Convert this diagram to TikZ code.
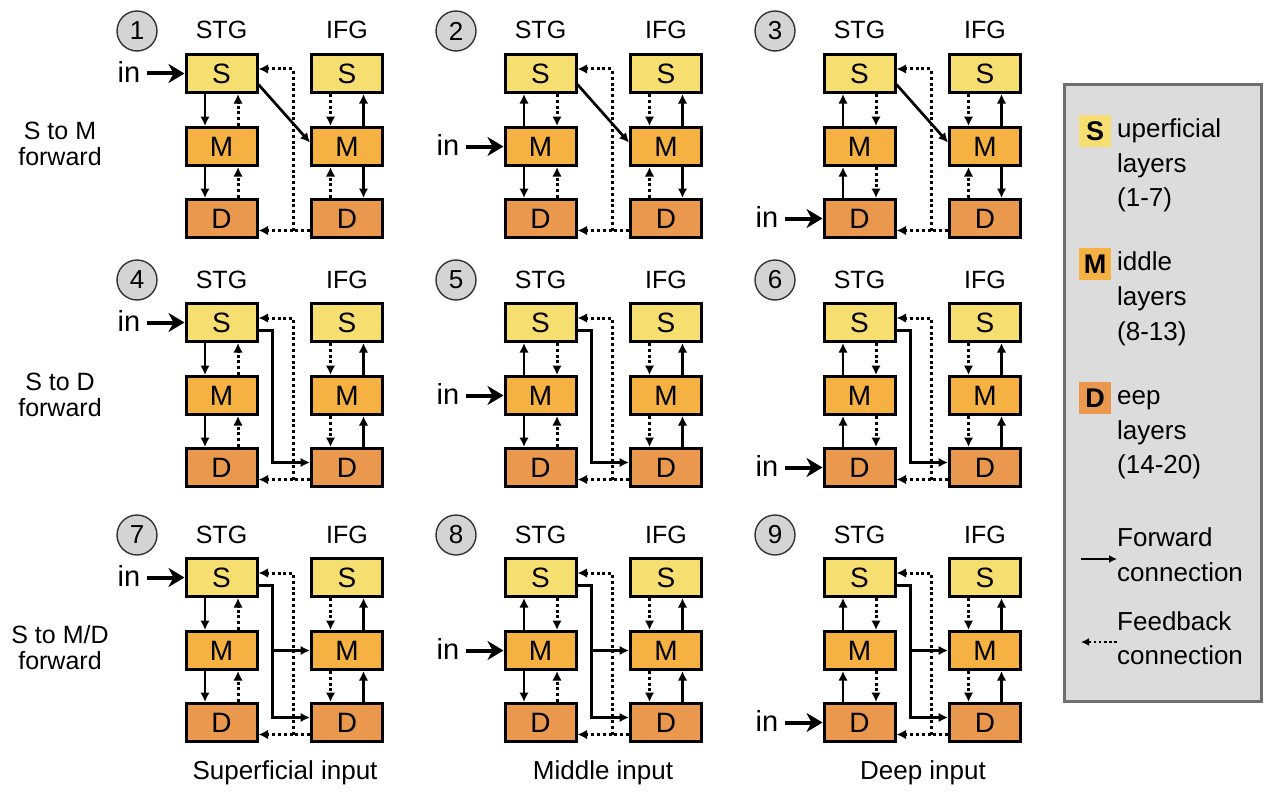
\documentclass[tikz,border=0pt]{standalone}
\usepackage{fontspec}
\setmainfont{Liberation Sans}
\usetikzlibrary{arrows.meta,calc}

\definecolor{supcol}{RGB}{247,222,112}
\definecolor{midcol}{RGB}{245,177,66}
\definecolor{deepcol}{RGB}{234,152,78}
\definecolor{badgecol}{RGB}{212,212,212}
\definecolor{legfill}{RGB}{220,220,220}
\definecolor{legline}{RGB}{110,110,110}

\tikzset{
  layer/.style={draw=black, line width=3pt, minimum width=71pt, minimum height=38pt,
    inner sep=0pt, font=\fontsize{28}{28}\selectfont},
  badge/.style={circle, draw=black!80, fill=badgecol, line width=1.4pt, minimum size=40pt,
    inner sep=0pt, font=\fontsize{26}{26}\selectfont},
  lbl/.style={inner sep=0pt, text height=17pt, text depth=5pt, font=\fontsize{25}{26}\selectfont},
  inlbl/.style={inner sep=0pt, text height=19pt, text depth=5pt, font=\fontsize{29}{29}\selectfont},
  big/.style={inner sep=0pt, text height=18pt, text depth=5pt, font=\fontsize{26}{27}\selectfont},
  rowlbl/.style={inner sep=0pt, align=center, font=\fontsize{25}{26}\selectfont},
  fwd/.style={line width=2.7pt, -{Latex[length=9.5pt,width=9.5pt]}},
  fb/.style={line width=3pt, dash pattern=on 3pt off 2.8pt, -{Latex[length=9.5pt,width=9.5pt]}},
  inarr/.style={line width=4pt, -{Stealth[length=16pt,width=19pt,inset=5pt]}},
  legbox/.style={draw=legline, fill=legfill, line width=2.8pt, minimum width=197pt,
    minimum height=617pt, inner sep=0pt},
  swatch/.style={minimum size=32pt, inner sep=0pt, font=\fontsize{27}{27}\selectfont\bfseries},
  legarr/.style={line width=2.4pt, -{Latex[length=8pt,width=8pt]}},
  legfb/.style={line width=2.6pt, dash pattern=on 2.6pt off 2.6pt, -{Latex[length=8pt,width=8pt]}},
}

% vertical links between two stacked layer boxes (#2 above #3), offset #4 from the centre line
\newcommand\linkdown[4]{\draw[#1] ([xshift=#4]#2.south) -- ([xshift=#4]#3.north);}
\newcommand\linkup[4]{\draw[#1] ([xshift=#4]#3.north) -- ([xshift=#4]#2.south);}

% one STG/IFG model: #1 label, #2 input layer (0 S, 1 M, 2 D), #3 projection (0 S->M, 1 S->D, 2 S->M/D)
\newcommand\panel[3]{%
  \pgfmathsetmacro\px{319*#2}%
  \pgfmathsetmacro\py{{0,249,504}[#3]}%
  \ifcase#2 \def\inl{S}\or\def\inl{M}\else\def\inl{D}\fi
  \begin{scope}[shift={(\px,\py)}]
    \node[badge] (p#1n) at (137,31) {#1};
    \node[lbl] (p#1sT) at (221.5,33) {STG};
    \node[lbl] (p#1iT) at (347,33) {IFG};
    \node[layer, fill=supcol]  (p#1sS) at (221.5,73.5)  {S};
    \node[layer, fill=midcol]  (p#1sM) at (221.5,146.5) {M};
    \node[layer, fill=deepcol] (p#1sD) at (221.5,218.5) {D};
    \node[layer, fill=supcol]  (p#1iS) at (347,73.5)  {S};
    \node[layer, fill=midcol]  (p#1iM) at (347,146.5) {M};
    \node[layer, fill=deepcol] (p#1iD) at (347,218.5) {D};
    % external input
    \node[inlbl, anchor=east] (p#1in) at ([xshift=-44pt,yshift=-2pt]p#1s\inl.west) {in};
    \draw[inarr, shorten <=6pt] (p#1in.east |- p#1s\inl.west) -- (p#1s\inl.west);
    % STG laminar links: forward on the left, feedback on the right
    \ifnum#2=0
      \linkdown{fwd}{p#1sS}{p#1sM}{-16.5}\linkup{fb}{p#1sS}{p#1sM}{16.5}
    \else
      \linkup{fwd}{p#1sS}{p#1sM}{-16.5}\linkdown{fb}{p#1sS}{p#1sM}{16.5}
    \fi
    \ifnum#2<2
      \linkdown{fwd}{p#1sM}{p#1sD}{-16.5}\linkup{fb}{p#1sM}{p#1sD}{16.5}
    \else
      \linkup{fwd}{p#1sM}{p#1sD}{-16.5}\linkdown{fb}{p#1sM}{p#1sD}{16.5}
    \fi
    % IFG laminar links: feedback on the left, forward on the right
    \linkdown{fb}{p#1iS}{p#1iM}{-16.5}\linkup{fwd}{p#1iS}{p#1iM}{16.5}
    \ifnum#3=0
      \linkup{fb}{p#1iM}{p#1iD}{-16.5}\linkdown{fwd}{p#1iM}{p#1iD}{16.5}
    \else
      \linkdown{fb}{p#1iM}{p#1iD}{-16.5}\linkup{fwd}{p#1iM}{p#1iD}{16.5}
    \fi
    % STG -> IFG forward projection
    \ifnum#3=0
      \draw[fwd] ([yshift=-11pt]p#1sS.east) -- ([yshift=4pt]p#1iM.west);
    \else
      \coordinate (p#1fj) at ([xshift=14pt,yshift=-8pt]p#1sS.east);
      \draw[fwd] ([yshift=-8pt]p#1sS.east) -- (p#1fj) |- ([yshift=5pt]p#1iD.west);
      \ifnum#3=2
        \draw[fwd] (p#1fj |- p#1iM.west) -- (p#1iM.west);
      \fi
    \fi
    % IFG -> STG feedback from deep layers
    \coordinate (p#1fb) at ([xshift=-17pt,yshift=-12pt]p#1iD.west);
    \draw[fb] ([yshift=-12pt]p#1iD.west) -- ([yshift=-12pt]p#1sD.east);
    \draw[fb] (p#1fb) |- ([yshift=4.5pt]p#1sS.east);
  \end{scope}
}

\begin{document}
\begin{tikzpicture}[x=1pt, y=-1pt]
  \useasboundingbox (0,0) rectangle (1266,792);

  \panel{1}{0}{0}
  \panel{2}{1}{0}
  \panel{3}{2}{0}
  \panel{4}{0}{1}
  \panel{5}{1}{1}
  \panel{6}{2}{1}
  \panel{7}{0}{2}
  \panel{8}{1}{2}
  \panel{9}{2}{2}

  % row titles
  \node[rowlbl] (r1) at (60,144) {S to M\\forward};
  \node[rowlbl] (r2) at (60,395) {S to D\\forward};
  \node[rowlbl] (r3) at (60,648) {S to M/D\\forward};

  % column titles
  \node[big] (c1) at (285,773) {Superficial input};
  \node[big] (c2) at (603,773) {Middle input};
  \node[big] (c3) at (923,773) {Deep input};

  % legend
  \node[legbox] (leg) at (1163,393) {};
  \node[swatch, fill=supcol]  (lgS) at (1095,131) {S};
  \node[swatch, fill=midcol]  (lgM) at (1095,264) {M};
  \node[swatch, fill=deepcol] (lgD) at (1095,398) {D};
  \node[big, anchor=west] (lgS1) at (1117,131) {uperficial};
  \node[big, anchor=west] (lgS2) at (1117,166) {layers};
  \node[big, anchor=west] (lgS3) at (1117,200) {(1-7)};
  \node[big, anchor=west] (lgM1) at (1117,264) {iddle};
  \node[big, anchor=west] (lgM2) at (1117,299) {layers};
  \node[big, anchor=west] (lgM3) at (1117,334) {(8-13)};
  \node[big, anchor=west] (lgD1) at (1117,398) {eep};
  \node[big, anchor=west] (lgD2) at (1117,433) {layers};
  \node[big, anchor=west] (lgD3) at (1117,467) {(14-20)};
  \node[big, anchor=west] (lgF1) at (1117,540) {Forward};
  \node[big, anchor=west] (lgF2) at (1117,575) {connection};
  \node[big, anchor=west] (lgB1) at (1117,624) {Feedback};
  \node[big, anchor=west] (lgB2) at (1117,658) {connection};
  \coordinate (lgFa) at (1081,559);
  \coordinate (lgBa) at (1081,642);
  \draw[legarr] (lgFa) -- (lgFa -| lgF2.west);
  \draw[legfb] (lgBa -| lgB2.west) -- (lgBa);
\end{tikzpicture}
\end{document}
